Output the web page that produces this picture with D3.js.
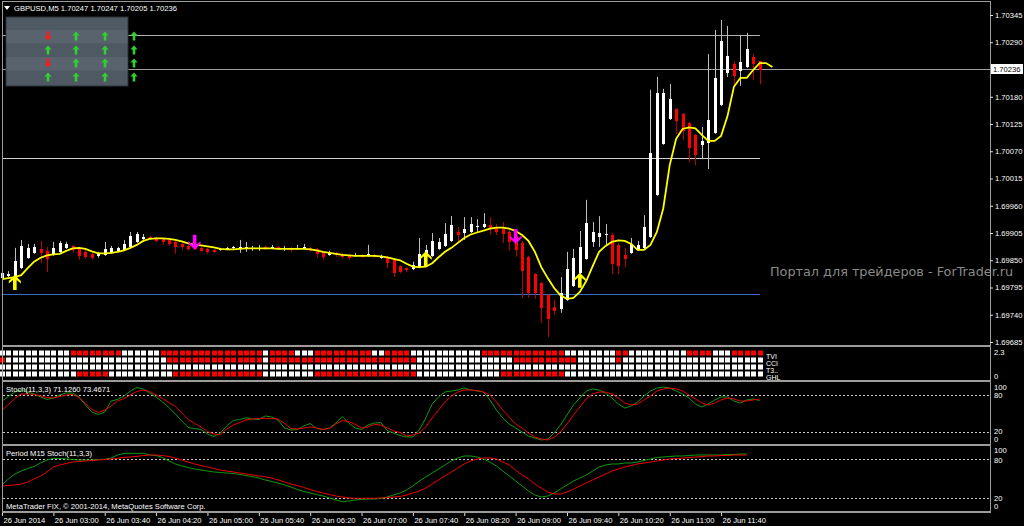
<!DOCTYPE html>
<html>
<head>
<meta charset="utf-8">
<script src="https://d3js.org/d3.v7.min.js"></script>
<style>
  body { margin: 0; background: #000; }
  svg { display: block; }
  text { font-family: "Liberation Sans", Arial, sans-serif; }
</style>
</head>
<body>
<script>
"use strict";
// ---- data (Heiken Ashi candles, M5) ----
var opens = [1.69814,1.69818,1.69816,1.69834,1.69855,1.69865,1.69873,1.69869,1.69861,1.69867,
1.69875,1.69879,1.69875,1.69867,1.69863,1.69859,1.69861,1.69865,1.69869,1.69871,
1.69877,1.69887,1.69893,1.69897,1.69895,1.69893,1.69891,1.69887,1.69883,1.69879,
1.69877,1.69875,1.69873,1.69871,1.69871,1.69873,1.69875,1.69873,1.69875,1.69873,
1.69873,1.69877,1.69875,1.69877,1.69873,1.69875,1.69873,1.69875,1.69875,1.69873,
1.69865,1.69861,1.69865,1.69863,1.69861,1.69859,1.69861,1.69859,1.69861,1.69855,
1.69857,1.69851,1.69838,1.69834,1.69832,1.69836,1.69861,1.69859,1.69873,1.69879,
1.69889,1.69907,1.69905,1.69907,1.69917,1.69917,1.69921,1.69917,1.69913,1.69907,
1.69899,1.69885,1.69857,1.69822,1.69804,1.69780,1.69756,1.69752,1.69770,1.69798,
1.69824,1.69853,1.69887,1.69897,1.69901,1.69901,1.69881,1.69861,1.69865,1.69871,
1.69876,1.69897,1.69982,1.70085,1.70135,1.70155,1.70145,1.70127,1.70103,1.70083,
1.70087,1.70107,1.70163,1.70228,1.70246,1.70232,1.70240,1.70260,1.70253];
var highs = [1.69828,1.69828,1.69875,1.69891,1.69883,1.69883,1.69889,1.69877,1.69887,1.69889,
1.69887,1.69881,1.69877,1.69871,1.69865,1.69867,1.69887,1.69879,1.69877,1.69891,
1.69907,1.69907,1.69903,1.69899,1.69897,1.69895,1.69893,1.69889,1.69885,1.69881,
1.69879,1.69877,1.69875,1.69873,1.69875,1.69877,1.69879,1.69891,1.69887,1.69879,
1.69881,1.69879,1.69881,1.69879,1.69879,1.69877,1.69881,1.69883,1.69877,1.69875,
1.69867,1.69869,1.69867,1.69865,1.69863,1.69865,1.69863,1.69881,1.69863,1.69861,
1.69859,1.69853,1.69840,1.69836,1.69847,1.69895,1.69881,1.69905,1.69895,1.69925,
1.69939,1.69917,1.69937,1.69937,1.69933,1.69945,1.69937,1.69923,1.69927,1.69911,
1.69903,1.69889,1.69859,1.69824,1.69806,1.69782,1.69770,1.69816,1.69867,1.69873,
1.69909,1.69972,1.69927,1.69939,1.69923,1.69905,1.69885,1.69875,1.69895,1.69889,
1.69941,1.70194,1.70220,1.70196,1.70206,1.70157,1.70147,1.70129,1.70105,1.70119,
1.70266,1.70315,1.70335,1.70323,1.70252,1.70305,1.70309,1.70266,1.70253];
var lows = [1.69810,1.69816,1.69814,1.69832,1.69853,1.69863,1.69844,1.69826,1.69859,1.69865,
1.69873,1.69865,1.69851,1.69853,1.69851,1.69855,1.69859,1.69863,1.69867,1.69869,
1.69875,1.69885,1.69891,1.69891,1.69887,1.69881,1.69879,1.69863,1.69871,1.69869,
1.69871,1.69867,1.69863,1.69865,1.69869,1.69871,1.69873,1.69865,1.69867,1.69869,
1.69869,1.69871,1.69873,1.69871,1.69869,1.69867,1.69871,1.69873,1.69867,1.69855,
1.69851,1.69859,1.69857,1.69853,1.69851,1.69857,1.69855,1.69857,1.69855,1.69853,
1.69834,1.69816,1.69824,1.69826,1.69830,1.69834,1.69859,1.69857,1.69871,1.69877,
1.69887,1.69887,1.69891,1.69905,1.69905,1.69915,1.69901,1.69901,1.69885,1.69869,
1.69857,1.69774,1.69774,1.69772,1.69723,1.69695,1.69740,1.69744,1.69768,1.69796,
1.69822,1.69851,1.69877,1.69877,1.69881,1.69822,1.69822,1.69836,1.69863,1.69869,
1.69873,1.69895,1.69980,1.70083,1.70133,1.70105,1.70093,1.70048,1.70042,1.70054,
1.70034,1.70105,1.70161,1.70220,1.70202,1.70202,1.70238,1.70214,1.70205];
var closes = [1.69824,1.69822,1.69849,1.69879,1.69875,1.69877,1.69865,1.69853,1.69875,1.69885,
1.69883,1.69871,1.69859,1.69857,1.69855,1.69865,1.69873,1.69875,1.69875,1.69883,
1.69899,1.69903,1.69897,1.69893,1.69889,1.69887,1.69883,1.69877,1.69877,1.69873,
1.69873,1.69869,1.69867,1.69867,1.69873,1.69875,1.69877,1.69877,1.69877,1.69875,
1.69875,1.69873,1.69877,1.69873,1.69875,1.69871,1.69875,1.69877,1.69871,1.69863,
1.69857,1.69865,1.69861,1.69857,1.69855,1.69861,1.69857,1.69863,1.69857,1.69857,
1.69844,1.69824,1.69826,1.69830,1.69840,1.69863,1.69871,1.69889,1.69887,1.69903,
1.69921,1.69901,1.69913,1.69923,1.69919,1.69923,1.69913,1.69907,1.69903,1.69887,
1.69871,1.69828,1.69784,1.69784,1.69754,1.69731,1.69748,1.69784,1.69832,1.69855,
1.69877,1.69925,1.69907,1.69905,1.69903,1.69842,1.69838,1.69853,1.69883,1.69881,
1.69918,1.70066,1.70188,1.70188,1.70175,1.70131,1.70111,1.70077,1.70062,1.70091,
1.70133,1.70218,1.70293,1.70262,1.70222,1.70250,1.70276,1.70246,1.70234];

// smoothed average (yellow), runs 2 bars past the last candle
var maLine = [1.69812,1.69814,1.69816,1.69820,1.69834,1.69847,1.69855,1.69860,1.69862,1.69863,
1.69869,1.69874,1.69875,1.69873,1.69868,1.69864,1.69864,1.69865,1.69867,1.69870,
1.69875,1.69881,1.69889,1.69893,1.69894,1.69894,1.69893,1.69891,1.69888,1.69884,
1.69881,1.69880,1.69878,1.69876,1.69873,1.69872,1.69872,1.69873,1.69874,1.69874,
1.69874,1.69874,1.69874,1.69873,1.69873,1.69873,1.69873,1.69873,1.69872,1.69870,
1.69867,1.69865,1.69863,1.69861,1.69860,1.69859,1.69859,1.69859,1.69859,1.69858,
1.69856,1.69853,1.69850,1.69843,1.69837,1.69836,1.69837,1.69844,1.69856,1.69867,
1.69875,1.69885,1.69895,1.69902,1.69906,1.69910,1.69914,1.69916,1.69916,1.69914,
1.69909,1.69901,1.69889,1.69867,1.69836,1.69814,1.69794,1.69779,1.69772,1.69774,
1.69786,1.69808,1.69838,1.69867,1.69879,1.69887,1.69890,1.69889,1.69883,1.69871,
1.69871,1.69881,1.69907,1.69955,1.70042,1.70095,1.70115,1.70118,1.70116,1.70103,
1.70091,1.70091,1.70101,1.70141,1.70200,1.70218,1.70218,1.70234,1.70248,1.70248,
1.70240];

var upArrowBars = [2, 66, 90], upArrowPrices = [1.69820, 1.69868, 1.69825];
var downArrowBars = [30, 80], downArrowPrices = [1.69871, 1.69883];

var levelPrices = [1.70305, 1.70056, 1.69781];
var lastPrice = 1.70236;
var priceTicks = [1.70345,1.70290,1.70180,1.70125,1.70070,1.70015,1.69960,1.69905,1.69850,1.69795,1.69740,1.69685];

// Stochastic(11,3,3) M5
var stochMain = [70.2,77.6,84.9,88.2,84.9,81.7,76.8,72.7,75.1,80.0,
83.3,83.3,76.8,63.7,52.2,48.1,52.2,70.2,72.7,78.4,
86.6,92.3,89.9,83.3,76.8,68.6,59.6,48.9,37.5,26.8,
25.2,23.6,16.2,12.1,17.8,29.3,38.3,39.9,42.9,40.8,
39.9,45.7,44.0,39.1,26.0,22.8,23.6,29.3,33.4,25.2,
23.6,26.0,34.2,44.8,34.2,26.0,23.6,30.9,34.2,35.0,
21.9,17.8,13.7,11.3,11.3,22.8,42.4,65.3,76.8,84.9,
86.6,88.2,91.5,88.2,86.6,84.9,71.9,55.5,42.4,32.6,
26.0,19.5,12.9,9.7,6.4,8.0,17.8,30.9,47.3,63.7,
75.1,86.6,89.9,88.2,83.3,75.1,65.3,58.7,62.0,68.6,
78.4,86.6,91.5,93.1,91.5,86.6,81.7,75.1,65.3,60.4,
65.3,71.9,76.8,76.8,70.2,66.9,71.9,73.5,71.126];
var stochSignal = [54.7,64.5,74.3,81.7,81.7,80.9,78.4,75.9,75.1,77.6,
80.0,80.9,75.9,66.1,56.3,51.4,55.5,62.0,70.2,74.3,
80.0,85.8,88.2,85.8,80.0,74.3,67.8,61.2,50.6,39.9,
33.4,27.7,20.3,16.2,15.4,24.4,30.9,35.0,39.1,40.8,
41.6,41.9,41.6,40.8,33.4,25.2,24.4,26.0,27.7,26.0,
23.6,25.2,32.6,38.3,36.7,31.8,26.0,27.7,31.8,30.9,
26.0,21.1,18.7,12.9,14.6,17.8,27.7,42.4,55.5,68.6,
78.4,84.9,88.2,88.2,87.4,84.9,80.0,68.6,55.5,44.0,
32.6,26.0,17.8,11.3,8.0,6.4,11.3,19.5,32.6,47.3,
60.4,73.5,81.7,84.9,84.9,81.7,75.1,66.9,63.7,65.3,
71.9,78.4,86.6,89.9,91.5,89.9,86.6,80.0,73.5,66.9,
63.7,66.9,71.9,75.1,73.5,70.2,70.2,71.9,73.4671];

// Stochastic(11,3,3) from M15
var m15Main = [40.5,49.7,57.4,62.0,65.8,68.9,74.3,78.9,81.5,81.2,
80.5,79.7,78.9,78.9,78.9,79.7,80.0,82.0,86.6,89.2,
89.2,89.2,89.2,86.6,85.8,82.8,77.4,72.8,69.7,67.4,
65.1,63.5,62.0,60.5,59.7,58.9,58.2,56.6,55.1,53.2,
51.2,48.2,45.8,43.5,40.5,37.4,33.5,30.5,28.2,25.8,
23.5,20.5,17.4,14.8,15.8,17.4,18.2,18.9,18.9,19.7,
22.0,25.1,28.2,32.8,38.9,46.6,52.8,58.9,65.1,71.2,
77.4,82.0,85.1,85.1,83.5,80.5,75.8,69.7,62.0,54.3,
46.6,38.9,31.2,25.1,22.0,23.5,28.2,34.3,40.5,46.6,
51.2,55.8,62.0,68.2,71.2,72.8,72.8,74.3,74.3,75.8,
78.2,80.5,82.8,83.5,84.3,85.1,85.1,85.8,86.6,86.6,
86.6,86.6,86.6,87.4,87.4,88.2,88.2];
var m15Signal = [38.9,39.7,40.5,42.0,45.1,49.7,54.3,60.5,68.2,71.2,
73.5,75.8,76.6,77.4,78.2,78.9,79.7,80.5,81.5,82.8,
83.5,84.6,85.8,86.6,86.6,85.8,84.3,82.0,78.9,75.8,
72.8,70.5,68.2,65.8,63.5,62.0,60.5,58.9,57.4,55.8,
54.3,53.2,51.2,48.2,45.1,42.0,39.7,36.6,33.5,30.5,
28.2,25.8,23.5,22.0,20.5,20.0,20.0,20.0,20.0,20.5,
21.2,22.0,22.8,25.1,28.2,31.2,35.8,42.0,48.2,54.3,
60.5,66.6,72.8,77.4,80.5,82.0,82.0,80.5,75.8,71.2,
63.5,55.8,49.7,42.0,35.8,29.7,26.6,26.6,29.7,34.3,
38.9,43.5,48.2,52.8,57.4,62.0,65.1,68.2,70.5,72.8,
74.3,75.8,77.4,78.9,80.5,81.2,82.0,82.8,83.5,84.3,
85.1,85.1,85.8,85.8,86.6,86.6,86.6];

// signal bar rows: run lengths, alternating white / red, first run white
var barRowNames = ['TVI', 'CCI', 'T3..', 'GHL'];
var barRowRuns = [
  [11,8,6,16,1,4,3,9,2,4,11,13,8,2,9,4,3,5],
  [0,1,25,15,1,23,15,10,6,1,22],
  [119],
  [12,5,10,14,8,16,13,10,31]
];

// dashboard arrows: 1 up, -1 down
var dashRows = [[-1,1,1,1],[1,1,1,1],[-1,1,1,1],[1,1,1,1]];

var timeTickBars = [0,8,16,24,32,40,48,56,64,72,80,88,96,104,112];
var timeLabels = ['26 Jun 2014','26 Jun 03:00','26 Jun 03:40','26 Jun 04:20','26 Jun 05:00',
  '26 Jun 05:40','26 Jun 06:20','26 Jun 07:00','26 Jun 07:40','26 Jun 08:20','26 Jun 09:00',
  '26 Jun 09:40','26 Jun 10:20','26 Jun 11:00','26 Jun 11:40'];

// ---- drawing ----
var width = 1024, height = 526,
    right = 990,
    frame = '#9c9c9c',
    fs = 7.6;

var svg = d3.select('body').append('svg')
  .attr('width', width).attr('height', height);
svg.append('rect').attr('width', width).attr('height', height).attr('fill', '#000');

var x = d3.scaleLinear().domain([0, 118]).range([2, 759.6]);
var y = d3.scaleLinear().domain([1.69685, 1.70345]).range([342, 15]);
var ys1 = d3.scaleLinear().domain([0, 100]).range([443.9, 382.8]);
var ys2 = d3.scaleLinear().domain([0, 100]).range([511.3, 446.3]);
function px(i) { return Math.round(x(i)); }

// watermark
svg.append('text').attr('x', 770).attr('y', 276)
  .attr('fill', '#8a8a8a').style('font-family', '"DejaVu Sans", sans-serif')
  .style('font-size', '12.8px').text('Портал для трейдеров - ForTrader.ru');

// horizontal levels
svg.selectAll('line.level').data(levelPrices).enter().append('line')
  .attr('x1', 3).attr('x2', 760)
  .attr('y1', function(d) { return Math.round(y(d)) + 0.5; })
  .attr('y2', function(d) { return Math.round(y(d)) + 0.5; })
  .attr('stroke', function(d, i) { return ['#b0b0b0', '#d0d0d0', '#3c6cc8'][i]; })
  .attr('stroke-width', 1);
svg.append('line').attr('x1', 3).attr('x2', right)
  .attr('y1', Math.round(y(lastPrice)) + 0.5).attr('y2', Math.round(y(lastPrice)) + 0.5)
  .attr('stroke', '#a0a0a0');

// candles
var bars = d3.range(opens.length).map(function(i) {
  return { i: i, o: opens[i], h: highs[i], l: lows[i], c: closes[i], up: closes[i] >= opens[i] };
});
var cg = svg.append('g');
cg.selectAll('line').data(bars).enter().append('line')
  .attr('x1', function(d) { return px(d.i) + 0.5; })
  .attr('x2', function(d) { return px(d.i) + 0.5; })
  .attr('y1', function(d) { return y(d.h); })
  .attr('y2', function(d) { return y(d.l); })
  .attr('stroke', function(d) { return d.up ? '#bdbdbd' : '#c00000'; });
cg.selectAll('rect').data(bars).enter().append('rect')
  .attr('x', function(d) { return px(d.i) - 1; })
  .attr('width', 3)
  .attr('y', function(d) { return Math.round(y(Math.max(d.o, d.c))); })
  .attr('height', function(d) { return Math.max(1, Math.round(Math.abs(y(d.o) - y(d.c)))); })
  .attr('fill', function(d) { return d.up ? '#ffffff' : '#ff0000'; });

// yellow average
svg.append('path').datum(maLine)
  .attr('d', d3.line().x(function(d, i) { return x(i); }).y(function(d) { return y(d); }))
  .attr('fill', 'none').attr('stroke', '#ffff00').attr('stroke-width', 1.8);

// signal arrows
var upPath = 'M0,0 L6,6 L6,8.5 L1.8,5 L1.8,15 L-1.8,15 L-1.8,5 L-6,8.5 L-6,6 Z';
svg.selectAll('path.up').data(upArrowBars).enter().append('path')
  .attr('d', upPath).attr('fill', '#ffff00')
  .attr('transform', function(d, k) { return 'translate(' + x(d) + ',' + y(upArrowPrices[k]) + ')'; });
svg.selectAll('path.dn').data(downArrowBars).enter().append('path')
  .attr('d', upPath).attr('fill', '#ff00ff')
  .attr('transform', function(d, k) { return 'translate(' + x(d) + ',' + y(downArrowPrices[k]) + ') scale(1,-1)'; });

// dashboard
var dash = svg.append('g');
dash.append('rect').attr('x', 6).attr('y', 17).attr('width', 122).attr('height', 69)
  .attr('fill', '#4e5964').attr('stroke', '#2c3239');
[30, 57].forEach(function(t) {
  dash.append('rect').attr('x', 6.5).attr('y', t).attr('width', 121).attr('height', 13.5)
    .attr('fill', '#58636d');
});
var dashX = [48, 76, 105, 134], dashY = [36, 50, 63, 77];
var smallArrow = 'M0,-4.5 L3.6,-0.6 L1.3,-0.6 L1.3,4.5 L-1.3,4.5 L-1.3,-0.6 L-3.6,-0.6 Z';
dashRows.forEach(function(row, r) {
  row.forEach(function(v, c) {
    dash.append('path').attr('d', smallArrow)
      .attr('fill', v > 0 ? '#2fd02f' : '#ff1a1a')
      .attr('transform', 'translate(' + dashX[c] + ',' + dashY[r] + ')' + (v > 0 ? '' : ' scale(1,-1)'));
  });
});

// title
svg.append('path').attr('d', 'M4,6 L10,6 L7,10 Z').attr('fill', '#fff');
svg.append('text').attr('x', 14).attr('y', 11).attr('fill', '#fff').style('font-size', fs + 'px')
  .text('GBPUSD,M5  1.70247 1.70247 1.70205 1.70236');

// signal bar panel
var rowY = [353, 360, 367, 374];
var cells = [];
barRowRuns.forEach(function(runs, r) {
  var i = 0;
  runs.forEach(function(n, k) {
    for (var j = 0; j < n; j++) { cells.push({ r: r, i: i, red: k % 2 === 1 }); i++; }
  });
});
svg.append('g').selectAll('rect').data(cells).enter().append('rect')
  .attr('x', function(d) { return px(d.i) - 2; })
  .attr('y', function(d) { return rowY[d.r] - 2.5; })
  .attr('width', 5).attr('height', 5)
  .attr('fill', function(d) { return d.red ? '#ff0000' : '#ffffff'; });
svg.selectAll('text.rowname').data(barRowNames).enter().append('text')
  .attr('x', 766).attr('y', function(d, r) { return rowY[r] + 5.5; })
  .attr('fill', '#fff').style('font-size', '7px').text(function(d) { return d; });

// stochastic panels
function stochPanel(ys, series, label) {
  var g = svg.append('g');
  [80, 20].forEach(function(v) {
    g.append('line').attr('x1', 3).attr('x2', right)
      .attr('y1', Math.round(ys(v)) + 0.5).attr('y2', Math.round(ys(v)) + 0.5)
      .attr('stroke', '#c8c8c8').attr('stroke-dasharray', '2,2');
  });
  var line = d3.line().x(function(d, i) { return x(i); }).y(function(d) { return ys(d); });
  g.append('path').datum(series[0]).attr('d', line)
    .attr('fill', 'none').attr('stroke', '#0d9a0d').attr('stroke-width', 1);
  g.append('path').datum(series[1]).attr('d', line)
    .attr('fill', 'none').attr('stroke', '#ee0000').attr('stroke-width', 1);
  g.append('text').attr('x', 6).attr('y', ys(100) + 9.5)
    .attr('fill', '#fff').style('font-size', fs + 'px').text(label);
  [[100, 4.3], [80, 0.6], [20, 0], [0, -5]].forEach(function(p) {
    g.append('text').attr('x', 994).attr('y', ys(p[0]) + p[1]).attr('dy', '0.35em')
      .attr('fill', '#fff').style('font-size', fs + 'px').text(p[0]);
  });
}
stochPanel(ys1, [stochMain, stochSignal], 'Stoch(11,3,3) 71.1260 73.4671');
stochPanel(ys2, [m15Main, m15Signal], 'Period M15 Stoch(11,3,3)');

svg.append('text').attr('x', 6).attr('y', 508.5).attr('fill', '#fff').style('font-size', fs + 'px')
  .text('MetaTrader FIX, \u00a9 2001-2014, MetaQuotes Software Corp.');

// frames
var fr = svg.append('g').attr('stroke', frame).attr('fill', 'none');
fr.append('line').attr('x1', 2.5).attr('x2', 2.5).attr('y1', 1).attr('y2', 512);
fr.append('line').attr('x1', 2).attr('x2', right + 0.5).attr('y1', 1.5).attr('y2', 1.5);
fr.append('line').attr('x1', right + 0.5).attr('x2', right + 0.5).attr('y1', 1).attr('y2', 513);
[346, 381, 445, 512].forEach(function(v) {
  fr.append('line').attr('x1', 2).attr('x2', right + 1).attr('y1', v).attr('y2', v)
    .attr('stroke-width', 2);
});

// price axis
var pa = svg.append('g').attr('transform', 'translate(' + right + ',0)')
  .call(d3.axisRight(y).tickValues(priceTicks).tickFormat(d3.format('.5f')).tickSize(3).tickPadding(2));
pa.select('.domain').remove();
pa.selectAll('line').attr('stroke', '#ddd');
pa.selectAll('text').attr('fill', '#fff').style('font-size', fs + 'px')
  .style('font-family', '"Liberation Sans", Arial, sans-serif');
svg.append('rect').attr('x', 991).attr('y', y(lastPrice) - 5).attr('width', 32).attr('height', 10)
  .attr('fill', '#fff');
svg.append('text').attr('x', 993).attr('y', y(lastPrice)).attr('dy', '0.35em')
  .attr('fill', '#000').style('font-size', fs + 'px').text(lastPrice.toFixed(5));

// signal panel axis labels
svg.append('text').attr('x', 994).attr('y', 352).attr('dy', '0.35em').attr('fill', '#fff')
  .style('font-size', fs + 'px').text('2.3');
svg.append('text').attr('x', 994).attr('y', 376).attr('dy', '0.35em').attr('fill', '#fff')
  .style('font-size', fs + 'px').text('0');

// time axis
var ta = svg.append('g').attr('transform', 'translate(0,513)')
  .call(d3.axisBottom(x).tickValues(timeTickBars)
    .tickFormat(function(d, k) { return timeLabels[k]; }).tickSize(3).tickPadding(2));
ta.select('.domain').remove();
ta.selectAll('line').attr('stroke', '#ddd');
ta.selectAll('text').attr('fill', '#fff').attr('text-anchor', 'start').attr('dx', '1')
  .style('font-size', fs + 'px').style('font-family', '"Liberation Sans", Arial, sans-serif');
</script>
</body>
</html>
